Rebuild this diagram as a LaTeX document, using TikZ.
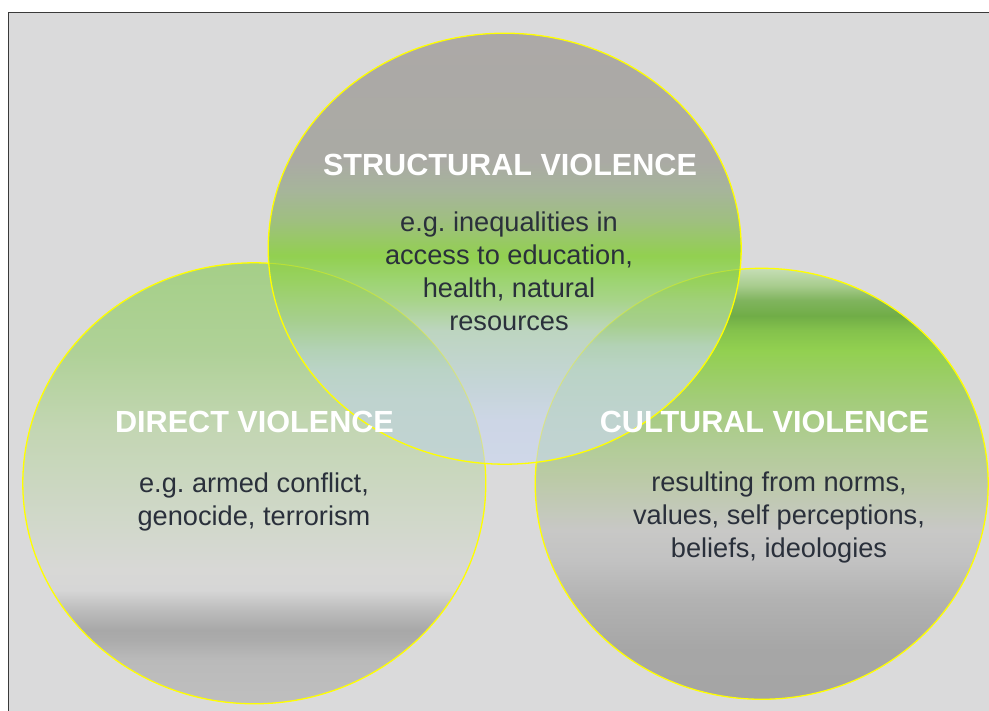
\documentclass[tikz,border=0pt]{standalone}
\usepackage{fontspec}
\setmainfont{Liberation Sans}
\frenchspacing
\usetikzlibrary{shapes.geometric}
\definecolor{bggray}{HTML}{DADADB}
\definecolor{framegray}{HTML}{3A3A3A}
\definecolor{rimyellow}{HTML}{FFFF00}
\definecolor{bodytext}{HTML}{2A303B}
\definecolor{s1}{HTML}{CFD7E8}\definecolor{s2}{HTML}{CDD6E6}\definecolor{s3}{HTML}{C4D5D6}
\definecolor{s4}{HTML}{BDD5C0}\definecolor{s5}{HTML}{A8D48A}\definecolor{s6}{HTML}{9DD472}
\definecolor{s7}{HTML}{92D050}\definecolor{s8}{HTML}{9FBF80}\definecolor{s9}{HTML}{A6B59A}
\definecolor{s10}{HTML}{AAAAA4}\definecolor{s11}{HTML}{ACA9A7}
\definecolor{d1}{HTML}{BFBFBF}\definecolor{d2}{HTML}{BABABA}\definecolor{d3}{HTML}{ABABAB}
\definecolor{d4}{HTML}{A8A8A8}\definecolor{d5}{HTML}{BDBDBD}\definecolor{d6}{HTML}{D6D6D6}
\definecolor{d7}{HTML}{D8D8D6}\definecolor{d8}{HTML}{D2D8CC}\definecolor{d9}{HTML}{C3D6B3}
\definecolor{d10}{HTML}{AFD197}\definecolor{d11}{HTML}{A5CF88}
\definecolor{c1}{HTML}{A5A5A5}\definecolor{c2}{HTML}{A6A6A6}\definecolor{c3}{HTML}{B2B2B2}
\definecolor{c4}{HTML}{C2C2C2}\definecolor{c5}{HTML}{C8C8C6}\definecolor{c6}{HTML}{BCCAA8}
\definecolor{c7}{HTML}{B3CC99}\definecolor{c8}{HTML}{A3CC7A}\definecolor{c9}{HTML}{92D050}
\definecolor{c10}{HTML}{84C24C}\definecolor{c11}{HTML}{70AD47}\definecolor{c12}{HTML}{80B45E}
\definecolor{c13}{HTML}{A8CC8E}\definecolor{c14}{HTML}{C6DEB6}
\definecolor{o1}{HTML}{C1D3D2}\definecolor{o2}{HTML}{BFD3CF}\definecolor{o3}{HTML}{BAD3C6}
\definecolor{o4}{HTML}{B3D2B6}\definecolor{o5}{HTML}{A6CF8E}\definecolor{o6}{HTML}{A0D078}
\definecolor{o7}{HTML}{98D160}\definecolor{o8}{HTML}{92D050}
\pgfdeclareverticalshading{structshade}{100bp}{color(0bp)=(s1); color(25bp)=(s1); color(30bp)=(s2);
  color(34.65bp)=(s3); color(40.5bp)=(s4); color(44bp)=(s5); color(46.3bp)=(s6); color(49.2bp)=(s7);
  color(53.3bp)=(s8); color(56.7bp)=(s9); color(60.2bp)=(s10); color(75bp)=(s11); color(100bp)=(s11)}
\pgfdeclareverticalshading{directshade}{100bp}{color(0bp)=(d1); color(25bp)=(d1); color(30bp)=(d2);
  color(32.3bp)=(d3); color(33.4bp)=(d4); color(35.7bp)=(d5); color(37.9bp)=(d6); color(40.2bp)=(d7);
  color(44.7bp)=(d8); color(56.1bp)=(d9); color(65.1bp)=(d10); color(75bp)=(d11); color(100bp)=(d11)}
\pgfdeclareverticalshading{culturalshade}{100bp}{color(0bp)=(c1); color(25bp)=(c1); color(30.7bp)=(c2);
  color(36.5bp)=(c3); color(41.1bp)=(c4); color(44.6bp)=(c5); color(50.4bp)=(c6); color(53.9bp)=(c7);
  color(59.7bp)=(c8); color(65.5bp)=(c9); color(67.8bp)=(c10); color(69.5bp)=(c11); color(71.3bp)=(c12);
  color(73bp)=(c13); color(75bp)=(c14); color(100bp)=(c14)}
\pgfdeclareverticalshading{directlap}{100bp}{color(0bp)=(o1); color(52.3bp)=(o1); color(59.5bp)=(o2);
  color(62.9bp)=(o3); color(65.1bp)=(o4); color(68.5bp)=(o5); color(70.8bp)=(o6); color(73.1bp)=(o7);
  color(75bp)=(o8); color(100bp)=(o8)}
\pgfdeclareverticalshading{culturallap}{100bp}{color(0bp)=(o1); color(52.4bp)=(o1); color(57.4bp)=(o2);
  color(63.2bp)=(o3); color(66bp)=(o4); color(68.5bp)=(o5); color(71.3bp)=(o6); color(73.2bp)=(o7);
  color(75bp)=(o8); color(100bp)=(o8)}

\begin{document}
\begin{tikzpicture}[x=1pt,y=-1pt,
    venn/.style={ellipse,inner sep=0pt,draw=rimyellow,line width=1.3pt},
    rim/.style={draw=rimyellow,line width=1.3pt},
    faintrim/.style={draw=rimyellow,line width=1pt,draw opacity=0.35},
    title/.style={anchor=base,text=white,font=\fontsize{30.6}{36}\selectfont\bfseries},
    body/.style={anchor=north,align=center,inner sep=0pt,text=bodytext,font=\fontsize{27.2}{33}\selectfont}]
  \useasboundingbox (0,0) rectangle (989,711);
  \fill[bggray] (8.5,12.5) rectangle (989,711);
  \draw[framegray,line width=1.7pt] (8.5,711) -- (8.5,12.5) -- (989,12.5);
  \node[venn,minimum width=463pt,minimum height=441pt,shade,shading=directshade] (direct) at (254.3,483.3) {};
  \node[venn,minimum width=453pt,minimum height=431pt,shade,shading=culturalshade] (cultural) at (761.7,483.8) {};
  \node[ellipse,inner sep=0pt,minimum width=473pt,minimum height=431pt,shade,shading=structshade] (structural) at (504.7,248.7) {};
  \begin{scope}
    \clip (structural.center) ellipse [x radius=236.5pt,y radius=215.5pt];
    \shade[shading=directlap] (direct.center) ellipse [x radius=231.5pt,y radius=220.5pt];
    \shade[shading=culturallap] (cultural.center) ellipse [x radius=226.5pt,y radius=215.5pt];
    \path[faintrim] (direct.center) ellipse [x radius=231.5pt,y radius=220.5pt];
    \path[faintrim] (cultural.center) ellipse [x radius=226.5pt,y radius=215.5pt];
  \end{scope}
  \path[rim] (structural.center) ellipse [x radius=236.5pt,y radius=215.5pt];
  \node[title] (structtitle) at (510,176) {STRUCTURAL VIOLENCE};
  \node[body] (structtext) at (509,211.3) {e.g. inequalities in\\access to education,\\health, natural\\resources};
  \node[title] (directtitle) at (254.5,433) {DIRECT VIOLENCE};
  \node[body] (directtext) at (254,472.5) {e.g. armed conflict,\\genocide, terrorism};
  \node[title] (culturaltitle) at (764.5,433) {CULTURAL VIOLENCE};
  \node[body] (culturaltext) at (779,471.2) {resulting from norms,\\values, self perceptions,\\beliefs, ideologies};
\end{tikzpicture}
\end{document}
